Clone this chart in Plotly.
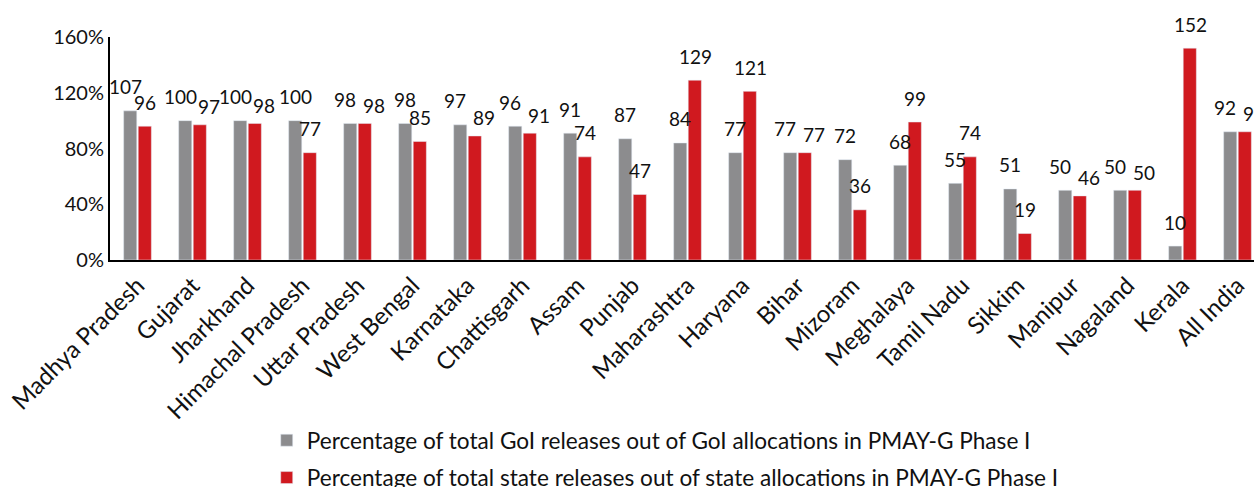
import plotly.graph_objects as go

states = ["Madhya Pradesh", "Gujarat", "Jharkhand", "Himachal Pradesh", "Uttar Pradesh",
          "West Bengal", "Karnataka", "Chattisgarh", "Assam", "Punjab", "Maharashtra",
          "Haryana", "Bihar", "Mizoram", "Meghalaya", "Tamil Nadu", "Sikkim", "Manipur",
          "Nagaland", "Kerala", "All India"]
goi_pct = [107, 100, 100, 100, 98, 98, 97, 96, 91, 87, 84, 77, 77, 72, 68, 55, 51, 50, 50, 10, 92]
state_pct = [96, 97, 98, 77, 98, 85, 89, 91, 74, 47, 129, 121, 77, 36, 99, 74, 19, 46, 50, 152, 92]
series_names = ["Percentage of total GoI releases out of GoI allocations in PMAY-G Phase I",
                "Percentage of total state releases out of state allocations in PMAY-G Phase I"]
y_ticks = [0, 40, 80, 120, 160]
y_tick_labels = ["0%", "40%", "80%", "120%", "160%"]

FONT = "Lato"
GRAY = "#8c8c8e"
RED = "#d0191f"
LABEL_FONT = dict(size=19, color="#111111", family=FONT)

fig = go.Figure()
fig.add_trace(go.Bar(x=states, y=goi_pct, name=series_names[0], marker_color=GRAY,
                     legendgroup="g1", offsetgroup="g1", cliponaxis=False))
fig.add_trace(go.Bar(x=states, y=state_pct, name=series_names[1], marker_color=RED,
                     legendgroup="g2", offsetgroup="g2", cliponaxis=False))

# data labels placed above bars (Excel-like), nudged apart when the pair would collide
annotations = []
for s, g, r in zip(states, goi_pct, state_pct):
    close = abs(g - r) < 10
    near = abs(g - r) < 13
    annotations.append(dict(x=s, y=g, text=str(g), showarrow=False, xref="x", yref="y",
                            xshift=-7.5 - (5 if near else 0), yshift=24,
                            font=LABEL_FONT, yanchor="middle", xanchor="center"))
    annotations.append(dict(x=s, y=r, text=str(r), showarrow=False, xref="x", yref="y",
                            xshift=7.5 + (9 if close else 0), yshift=(18 if close else 24),
                            font=LABEL_FONT, yanchor="middle", xanchor="center"))

fig.update_layout(
    width=1254, height=487,
    margin=dict(l=110, r=0, t=37, b=227, autoexpand=False),
    paper_bgcolor="white", plot_bgcolor="white",
    barmode="group", bargap=0.47, bargroupgap=0.1,
    font=dict(family=FONT, color="#111111"),
    showlegend=True,
    legend=dict(orientation="v", x=0.137, xanchor="left", y=-0.713, yanchor="top",
                font=dict(size=22.6, family=FONT, color="#111111"),
                bgcolor="rgba(0,0,0,0)", tracegroupgap=5),
    xaxis=dict(range=[-0.5, 20.3], tickangle=-45, tickfont=dict(size=24, family=FONT),
               showline=True, linecolor="black", linewidth=2, ticks="", showgrid=False,
               automargin=False),
    yaxis=dict(range=[0, 160], tickvals=y_ticks, ticktext=y_tick_labels,
               tickfont=dict(size=20, family=FONT), showline=True, linecolor="black",
               linewidth=2, ticks="", showgrid=False, zeroline=False, automargin=False),
    annotations=annotations,
)
fig.write_html("out.html")
